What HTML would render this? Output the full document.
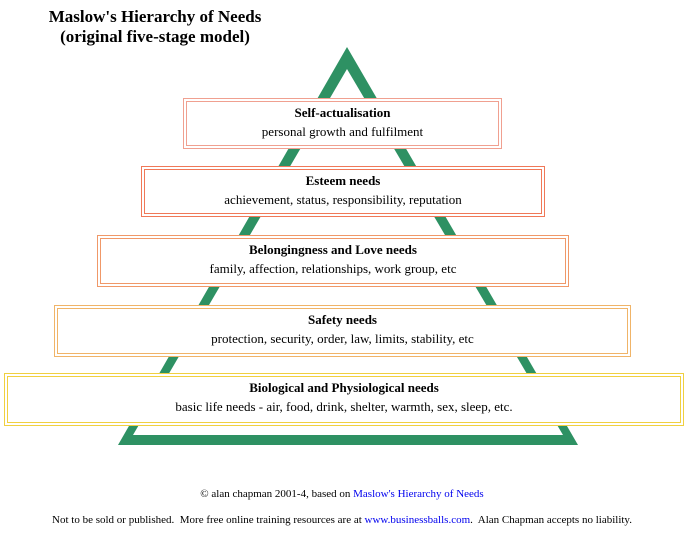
<!DOCTYPE html>
<html><head><style>
body{margin:0;width:688px;height:537px;background:#fff;position:relative;font-family:"Liberation Serif",serif;overflow:hidden}
.t{position:absolute;left:0;width:310px;text-align:center;font-weight:bold;font-size:17px;line-height:20px;top:7px}
.b{position:absolute;border:1px solid;background:#fff;box-sizing:border-box}
.b .i{position:absolute;left:2px;right:2px;top:2px;bottom:2px;border:1px solid;text-align:center;font-size:13px;line-height:19px;padding-top:1px}
.b .i b{display:block}
.f{position:absolute;left:0;width:688px;text-align:center;font-size:11px}
a{color:#0000ee;text-decoration:none}
</style></head><body>
<div class="t">Maslow's Hierarchy of Needs<br>(original five-stage model)</div>
<svg style="position:absolute;left:0;top:0" width="688" height="537">
<polygon points="347,47 118,445 578,445" fill="#2e9163"/>
<polygon points="347,69 133,435 563,435" fill="#fff"/>
</svg>
<div class="b" style="left:183px;top:98px;width:319px;height:51px;border-color:#f0a090"><div class="i" style="border-color:#f0a090"><b>Self-actualisation</b>personal growth and fulfilment</div></div>
<div class="b" style="left:141px;top:166px;width:404px;height:51px;border-color:#f07858"><div class="i" style="border-color:#f07858"><b>Esteem needs</b>achievement, status, responsibility, reputation</div></div>
<div class="b" style="left:97px;top:235px;width:472px;height:52px;border-color:#f09868"><div class="i" style="border-color:#f09868"><b>Belongingness and Love needs</b>family, affection, relationships, work group, etc</div></div>
<div class="b" style="left:54px;top:305px;width:577px;height:52px;border-color:#f0b468"><div class="i" style="border-color:#f0b468"><b>Safety needs</b>protection, security, order, law, limits, stability, etc</div></div>
<div class="b" style="left:4px;top:373px;width:680px;height:53px;border-color:#f0d040"><div class="i" style="border-color:#f0d040"><b>Biological and Physiological needs</b>basic life needs - air, food, drink, shelter, warmth, sex, sleep, etc.</div></div>
<div class="f" style="top:488px;left:-2px">© alan chapman 2001-4, based on <a>Maslow's Hierarchy of Needs</a></div>
<div class="f" style="top:514px;left:-2px">Not to be sold or published.&nbsp; More free online training resources are at <a>www.businessballs.com</a>.&nbsp; Alan Chapman accepts no liability.</div>
</body></html>
